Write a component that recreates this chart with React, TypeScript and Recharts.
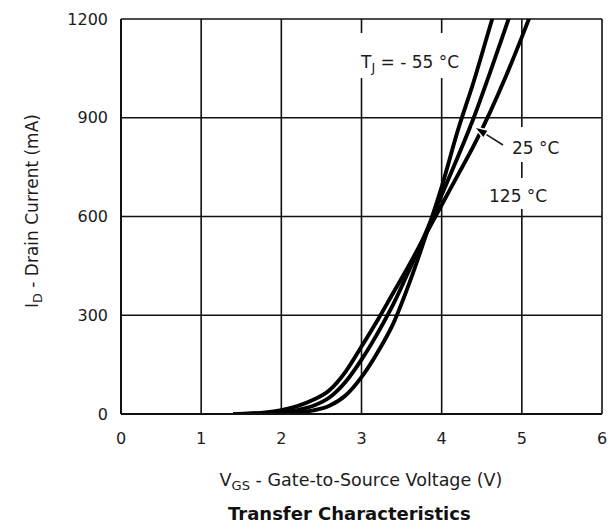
import { LineChart, Line, XAxis, YAxis, CartesianGrid } from "recharts";

// gate voltage (V) and drain current (mA)
const vgs = [1.4, 1.6, 1.8, 2.0, 2.2, 2.4, 2.6, 2.8, 3.0, 3.2, 3.4, 3.6, 3.8, 4.0, 4.2, 4.4, 4.6, 4.8, 5.0, 5.2];
const idM55 = [0, 0, 1, 2, 5, 11, 25, 56, 112, 187, 277, 400, 540, 690, 860, 1010, 1175, 1340, null, null];
const id25 = [0, 1, 2, 5, 12, 25, 50, 97, 165, 245, 335, 440, 550, 665, 780, 900, 1035, 1175, 1320, null];
const id125 = [0, 2, 5, 12, 24, 43, 72, 128, 205, 285, 370, 455, 545, 635, 725, 815, 915, 1025, 1145, 1270];

const xTicks = [0, 1, 2, 3, 4, 5, 6];
const yTicks = [0, 300, 600, 900, 1200];

const rows = vgs.map((v, i) => ({ v, m55: idM55[i], t25: id25[i], t125: id125[i] }));

const FONT = "'DejaVu Sans', sans-serif";
const INK = "#1c1c1c";

// page coords are shifted by the body margin
const OFF = 8;

function Mask({ x1, y1, x2, y2 }: { x1: number; y1: number; x2: number; y2: number }) {
  return (
    <div
      style={{
        position: "absolute",
        left: x1 - OFF,
        top: y1 - OFF,
        width: x2 - x1,
        height: y2 - y1,
        background: "#fff",
      }}
    />
  );
}

// x = left edge, y = cap centre (page coords)
function Note({ x, y, children }: { x: number; y: number; children: any }) {
  return (
    <span
      style={{
        position: "absolute",
        left: x - OFF,
        top: y - OFF - 8.2,
        fontSize: 17,
        lineHeight: "17px",
        whiteSpace: "nowrap",
        color: INK,
      }}
    >
      {children}
    </span>
  );
}

const Sub = ({ children }: { children: any }) => (
  <span style={{ fontSize: "0.75em", position: "relative", top: 4 }}>{children}</span>
);

function Arrow({ x1, y1, x2, y2 }: { x1: number; y1: number; x2: number; y2: number }) {
  const dx = x2 - x1;
  const dy = y2 - y1;
  const len = Math.hypot(dx, dy);
  const ux = dx / len;
  const uy = dy / len;
  const bx = x2 - ux * 11;
  const by = y2 - uy * 11;
  const px = -uy * 3.6;
  const py = ux * 3.6;
  return (
    <svg
      width={599}
      height={513}
      style={{ position: "absolute", left: 0, top: 0, pointerEvents: "none" }}
    >
      <g transform={`translate(${-OFF},${-OFF})`}>
        <line x1={x1} y1={y1} x2={bx} y2={by} stroke={INK} strokeWidth={1.6} />
        <polygon
          points={`${x2},${y2} ${bx + px},${by + py} ${bx - px},${by - py}`}
          fill="#000"
          stroke="#fff"
          strokeWidth={3}
          paintOrder="stroke"
        />
      </g>
    </svg>
  );
}

export default function App() {
  const tick = { fill: INK, fontSize: 16, fontFamily: FONT };
  return (
    <div style={{ position: "relative", width: 599, height: 513, fontFamily: FONT }}>
      <LineChart
        width={599}
        height={513}
        data={rows}
        margin={{ top: 11, right: 5, bottom: 0, left: 0 }}
      >
        <CartesianGrid stroke="#111" strokeWidth={1.6} />
        <XAxis
          dataKey="v"
          type="number"
          domain={[0, 6]}
          ticks={xTicks}
          height={107}
          tick={tick}
          tickLine={false}
          tickSize={0}
          tickMargin={19}
          axisLine={{ stroke: "#111", strokeWidth: 2 }}
        />
        <YAxis
          type="number"
          domain={[0, 1200]}
          ticks={yTicks}
          allowDataOverflow
          width={113}
          tick={tick}
          tickLine={false}
          tickSize={0}
          tickMargin={13}
          axisLine={{ stroke: "#111", strokeWidth: 2 }}
        />
        <Line dataKey="m55" type="monotone" stroke="#000" strokeWidth={3.9} dot={false} isAnimationActive={false} />
        <Line dataKey="t25" type="monotone" stroke="#000" strokeWidth={3.9} dot={false} isAnimationActive={false} />
        <Line dataKey="t125" type="monotone" stroke="#000" strokeWidth={3.9} dot={false} isAnimationActive={false} />
      </LineChart>

      {/* label boxes cut the grid like in the datasheet */}
      <Mask x1={356} y1={33} x2={466} y2={78} />
      <Mask x1={507} y1={127} x2={566} y2={162} />
      <Mask x1={484} y1={178} x2={556} y2={209} />

      <Note x={361} y={62}>
        T<Sub>J</Sub> = - 55 °C
      </Note>
      <Note x={512} y={148}>25 °C</Note>
      <Note x={489} y={196}>125 °C</Note>
      <Arrow x1={503} y1={145} x2={476} y2={128} />

      {/* axis titles */}
      <div
        style={{
          position: "absolute",
          left: 33 - OFF,
          top: 211 - OFF,
          transform: "translate(-50%, -50%) rotate(-90deg)",
          fontSize: 17,
          lineHeight: "17px",
          whiteSpace: "nowrap",
          color: INK,
        }}
      >
        I<Sub>D</Sub> - Drain Current (mA)
      </div>
      <div
        style={{
          position: "absolute",
          left: 361 - OFF,
          top: 480 - OFF - 8.4,
          transform: "translateX(-50%)",
          fontSize: 17.5,
          lineHeight: "17.5px",
          whiteSpace: "nowrap",
          color: INK,
        }}
      >
        V<Sub>GS</Sub> - Gate-to-Source Voltage (V)
      </div>
      <div
        style={{
          position: "absolute",
          left: 228 - OFF,
          top: 507 - OFF - 2.1,
          fontSize: 18,
          lineHeight: "18px",
          fontWeight: "bold",
          whiteSpace: "nowrap",
          color: "#111",
        }}
      >
        Transfer Characteristics
      </div>
    </div>
  );
}
